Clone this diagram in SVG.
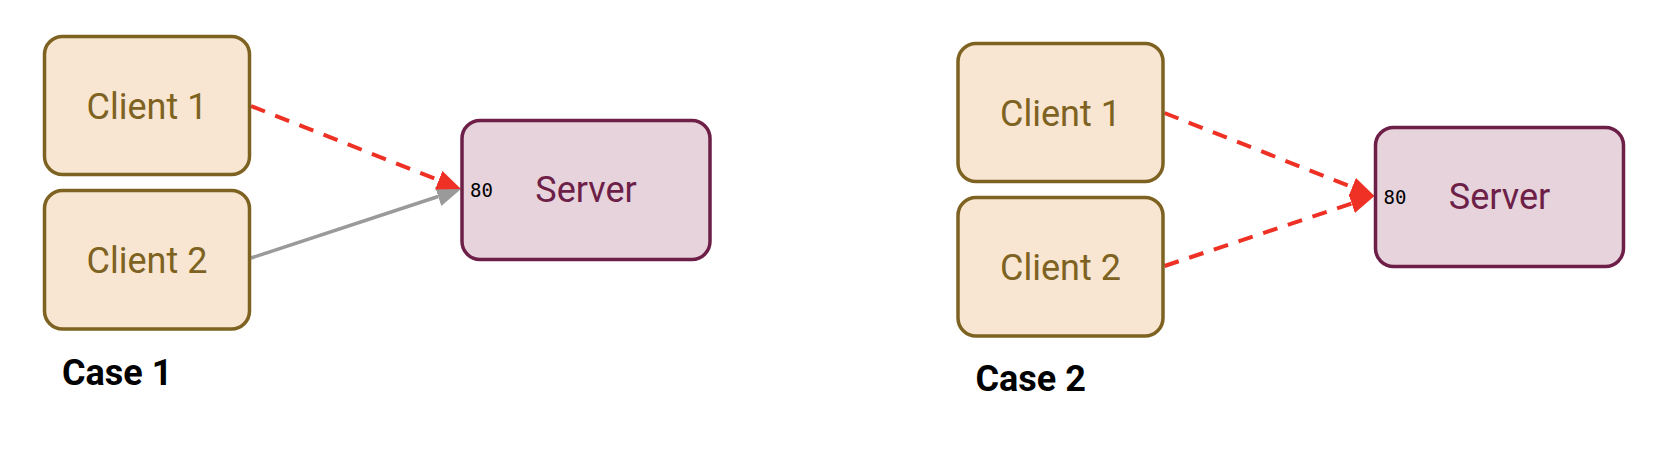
<svg xmlns="http://www.w3.org/2000/svg" width="1676" height="450" viewBox="0 0 1676 450">
<style>
.client rect{fill:#f8e6d2;stroke:#7e6221;stroke-width:3.5}
.client text{fill:#7e6221;font-family:Roboto,"Liberation Sans",sans-serif;font-size:36px;text-anchor:middle}
.server rect{fill:#e6d3dc;stroke:#6d1f48;stroke-width:3.5}
.server text.name{fill:#6d1f48;font-family:Roboto,"Liberation Sans",sans-serif;font-size:36px;text-anchor:middle}
.server text.port{fill:#000;font-family:"DejaVu Sans Mono","Liberation Mono",monospace;font-size:19px}
.caption{fill:#000;font-family:Roboto,"Liberation Sans",sans-serif;font-weight:bold;font-size:36px}
.red{fill:none;stroke:#ee3124;stroke-width:4;stroke-dasharray:15 11}
.gray{fill:none;stroke:#9a9a9a;stroke-width:3.5}
</style>
<defs>
<marker id="ahRed" viewBox="0 0 24 20" refX="0" refY="10" markerWidth="24" markerHeight="20" markerUnits="userSpaceOnUse" orient="auto"><path d="M0,0 L24,10 L0,20 z" fill="#ee3124"/></marker>
<marker id="ahGray" viewBox="0 0 24 20" refX="0" refY="10" markerWidth="24" markerHeight="20" markerUnits="userSpaceOnUse" orient="auto"><path d="M0,0 L24,10 L0,20 z" fill="#9a9a9a"/></marker>
</defs>

<g id="connectors">
<path class="gray" d="M251,258 L438.2,196.5" marker-end="url(#ahGray)"/>
<path class="red" d="M251,106 L438.7,180.2" marker-end="url(#ahRed)"/>
<path class="red" d="M1164.5,113 L1352.2,187.2" marker-end="url(#ahRed)"/>
<path class="red" d="M1164.5,266 L1351.7,203.5" marker-end="url(#ahRed)"/>
</g>

<g id="case1-client1" class="client">
<rect x="44.5" y="36.5" width="205" height="138" rx="18"/>
<text x="147" y="118.5">Client 1</text>
</g>
<g id="case1-client2" class="client">
<rect x="44.5" y="190.5" width="205" height="138.5" rx="18"/>
<text x="147" y="272.5">Client 2</text>
</g>
<g id="case1-server" class="server">
<rect x="462" y="120.5" width="248" height="139" rx="18"/>
<text class="name" x="586" y="202">Server</text>
<text class="port" x="470" y="197">80</text>
</g>
<text id="case1-label" class="caption" x="62" y="384.5">Case 1</text>

<g id="case2-client1" class="client">
<rect x="958" y="43.5" width="205" height="138" rx="18"/>
<text x="1060.5" y="125.5">Client 1</text>
</g>
<g id="case2-client2" class="client">
<rect x="958" y="197.5" width="205" height="138.5" rx="18"/>
<text x="1060.5" y="279.5">Client 2</text>
</g>
<g id="case2-server" class="server">
<rect x="1375.5" y="127.5" width="248" height="139" rx="18"/>
<text class="name" x="1499.5" y="209">Server</text>
<text class="port" x="1383.5" y="204">80</text>
</g>
<text id="case2-label" class="caption" x="975.5" y="391">Case 2</text>
</svg>
